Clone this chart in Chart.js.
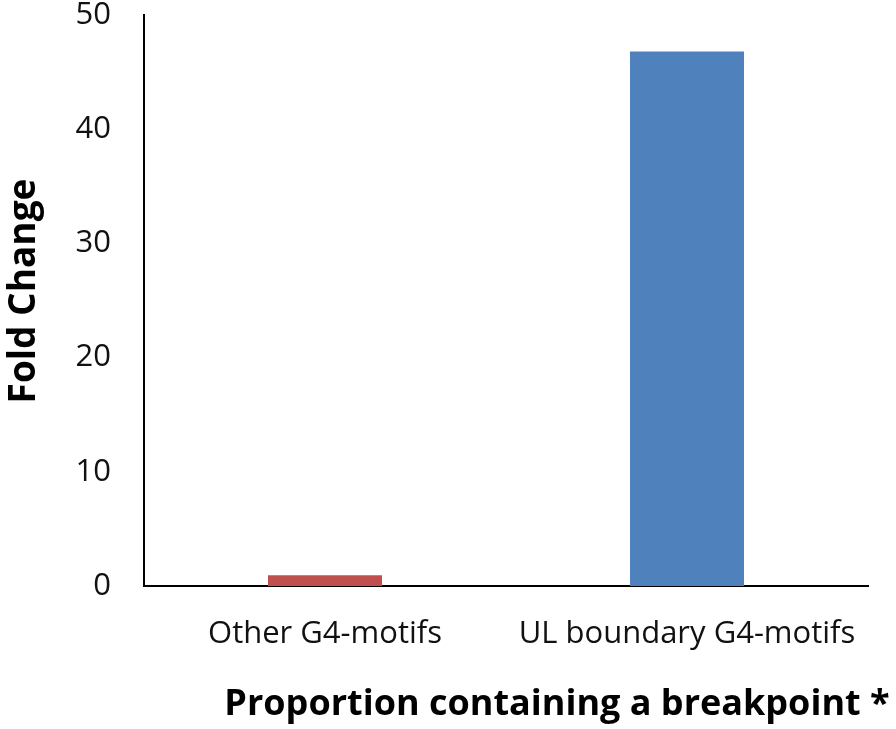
<!DOCTYPE html>
<html>
<head>
<meta charset="utf-8">
<script src="https://cdn.jsdelivr.net/npm/chart.js@4/dist/chart.umd.min.js"></script>
<style>
  html, body { margin: 0; padding: 0; background: #fff; }
  #wrap { width: 896px; height: 729px; }
</style>
</head>
<body>
<div id="wrap"><canvas id="c" width="896" height="729"></canvas></div>
<script>
/* ===== data ===== */
const categories = ['Other G4-motifs', 'UL boundary G4-motifs'];
const foldChange = [0.95, 46.8];
const barColors = ['#C0504D', '#4F81BD'];
const yTicks = [0, 10, 20, 30, 40, 50];

const FONT = "'Open Sans', 'Liberation Sans', sans-serif";

/* both axis titles sit off the plot centre in the original, so draw them by hand */
const axisTitlePlugin = {
  id: 'axisTitles',
  afterDraw(chart) {
    const ctx = chart.ctx;
    ctx.save();
    ctx.fillStyle = '#000';
    ctx.textAlign = 'center';
    ctx.textBaseline = 'middle';
    ctx.font = 'bold 36px ' + FONT;
    ctx.fillText('Proportion containing a breakpoint *', 557, 705);
    ctx.translate(24, 291);
    ctx.rotate(-Math.PI / 2);
    ctx.font = 'bold 37px ' + FONT;
    ctx.fillText('Fold Change', 0, 0);
    ctx.restore();
  }
};

const ctx = document.getElementById('c').getContext('2d');
new Chart(ctx, {
  type: 'bar',
  data: {
    labels: categories,
    datasets: [{
      data: foldChange,
      backgroundColor: barColors,
      borderWidth: 0,
      categoryPercentage: 1,
      barPercentage: 0.315
    }]
  },
  options: {
    responsive: false,
    animation: false,
    layout: { padding: { top: 15, right: 28, left: 0, bottom: 0 } },
    plugins: { legend: { display: false }, tooltip: { enabled: false } },
    scales: {
      x: {
        grid: { display: false, drawTicks: false },
        border: { color: '#000', width: 2 },
        ticks: { color: '#111', font: { family: FONT, size: 31 }, padding: 30 },
        afterFit(s) { s.height = 143; s.paddingLeft = 0; s.paddingRight = 0; }
      },
      y: {
        min: 0, max: 50,
        afterBuildTicks(s) { s.ticks = yTicks.map(v => ({ value: v })); },
        grid: { display: false, drawTicks: false },
        border: { color: '#000', width: 2 },
        ticks: { color: '#111', font: { family: FONT, size: 31 }, padding: 33 },
        afterFit(s) { s.width = 144; s.paddingTop = 0; s.paddingBottom = 0; }
      }
    }
  },
  plugins: [axisTitlePlugin]
});
</script>
</body>
</html>
